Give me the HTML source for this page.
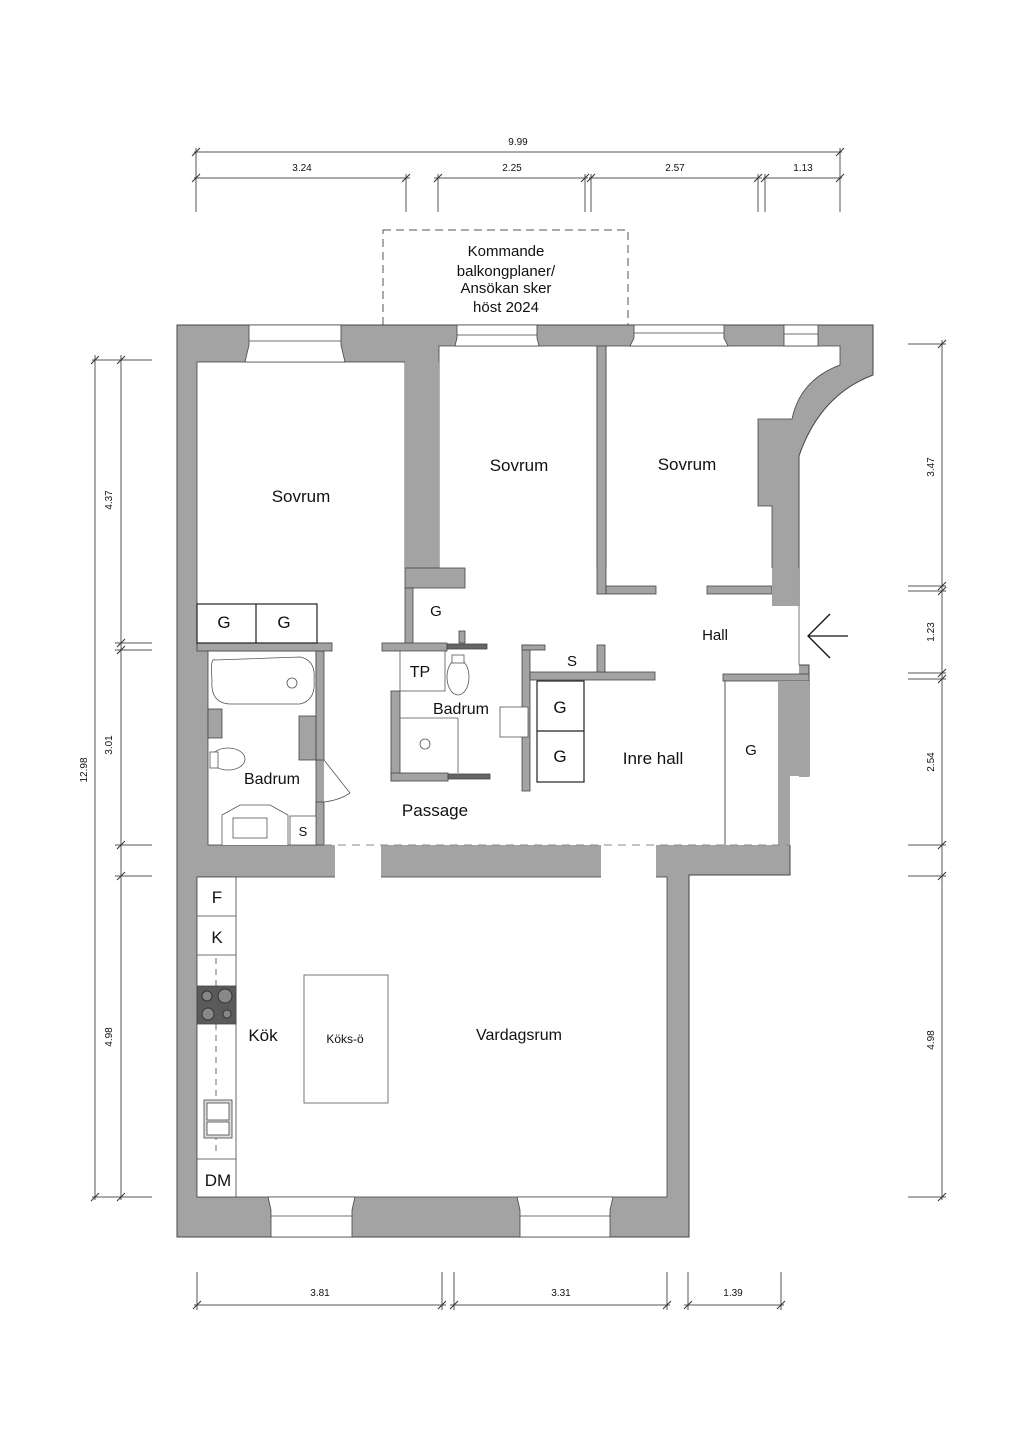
<!DOCTYPE html>
<html><head><meta charset="utf-8"><style>
html,body{margin:0;padding:0;background:#fff;}
svg{display:block}
text{font-family:"Liberation Sans",sans-serif;fill:#111}
</style></head><body>
<svg width="1024" height="1448" viewBox="0 0 1024 1448" xmlns="http://www.w3.org/2000/svg">
<g stroke="#555" stroke-width="1" fill="none">
<line x1="194" y1="152" x2="842" y2="152"/>
<line x1="194" y1="178" x2="410" y2="178"/>
<line x1="434" y1="178" x2="588" y2="178"/>
<line x1="589" y1="178" x2="762" y2="178"/>
<line x1="763" y1="178" x2="842" y2="178"/>
<line x1="196" y1="148" x2="196" y2="212"/><line x1="840" y1="148" x2="840" y2="212"/>
<line x1="406" y1="174" x2="406" y2="212"/><line x1="438" y1="174" x2="438" y2="212"/>
<line x1="585" y1="174" x2="585" y2="212"/><line x1="591" y1="174" x2="591" y2="212"/>
<line x1="758" y1="174" x2="758" y2="212"/><line x1="765" y1="174" x2="765" y2="212"/>
<line x1="95" y1="355" x2="95" y2="1200"/>
<line x1="121" y1="355" x2="121" y2="1200"/>
<line x1="92" y1="360" x2="152" y2="360"/>
<line x1="115" y1="643" x2="152" y2="643"/><line x1="115" y1="650" x2="152" y2="650"/>
<line x1="115" y1="845" x2="152" y2="845"/><line x1="115" y1="876" x2="152" y2="876"/>
<line x1="92" y1="1197" x2="152" y2="1197"/>
<line x1="942" y1="340" x2="942" y2="1200"/>
<line x1="908" y1="344" x2="946" y2="344"/>
<line x1="908" y1="586" x2="946" y2="586"/><line x1="908" y1="591" x2="946" y2="591"/>
<line x1="908" y1="673" x2="946" y2="673"/><line x1="908" y1="679" x2="946" y2="679"/>
<line x1="908" y1="845" x2="946" y2="845"/><line x1="908" y1="876" x2="946" y2="876"/>
<line x1="908" y1="1197" x2="946" y2="1197"/>
<line x1="194" y1="1305" x2="446" y2="1305"/>
<line x1="450" y1="1305" x2="670" y2="1305"/>
<line x1="684" y1="1305" x2="784" y2="1305"/>
<line x1="197" y1="1272" x2="197" y2="1310"/><line x1="442" y1="1272" x2="442" y2="1310"/>
<line x1="454" y1="1272" x2="454" y2="1310"/><line x1="667" y1="1272" x2="667" y2="1310"/>
<line x1="688" y1="1272" x2="688" y2="1310"/><line x1="781" y1="1272" x2="781" y2="1310"/>
</g>
<g stroke="#333" stroke-width="1">
<path d="M192 156 l8 -8 M836 156 l8 -8 M192 182 l8 -8 M402 182 l8 -8 M434 182 l8 -8 M581 182 l8 -8 M587 182 l8 -8 M754 182 l8 -8 M761 182 l8 -8 M836 182 l8 -8"/>
<path d="M91 364 l8 -8 M117 364 l8 -8 M117 647 l8 -8 M117 654 l8 -8 M117 849 l8 -8 M117 880 l8 -8 M91 1201 l8 -8 M117 1201 l8 -8"/>
<path d="M938 348 l8 -8 M938 590 l8 -8 M938 595 l8 -8 M938 677 l8 -8 M938 683 l8 -8 M938 849 l8 -8 M938 880 l8 -8 M938 1201 l8 -8"/>
<path d="M193 1309 l8 -8 M438 1309 l8 -8 M450 1309 l8 -8 M663 1309 l8 -8 M684 1309 l8 -8 M777 1309 l8 -8"/>
</g>
<g font-size="10" text-anchor="middle">
<text x="518" y="145">9.99</text>
<text x="302" y="171">3.24</text><text x="512" y="171">2.25</text>
<text x="675" y="171">2.57</text><text x="803" y="171">1.13</text>
<text x="320" y="1296">3.81</text><text x="561" y="1296">3.31</text><text x="733" y="1296">1.39</text>
<text transform="translate(87,770) rotate(-90)">12.98</text>
<text transform="translate(112,500) rotate(-90)">4.37</text>
<text transform="translate(112,745) rotate(-90)">3.01</text>
<text transform="translate(112,1037) rotate(-90)">4.98</text>
<text transform="translate(934,467) rotate(-90)">3.47</text>
<text transform="translate(934,632) rotate(-90)">1.23</text>
<text transform="translate(934,762) rotate(-90)">2.54</text>
<text transform="translate(934,1040) rotate(-90)">4.98</text>
</g>
<rect x="383" y="230" width="245" height="95" fill="none" stroke="#555" stroke-dasharray="8,5"/>
<g font-size="15" text-anchor="middle">
<text x="506" y="256">Kommande</text><text x="506" y="276">balkongplaner/</text>
<text x="506" y="293">Ansökan sker</text><text x="506" y="312">höst 2024</text>
</g>
<path d="M177 325 H873 V375 Q820 395 799 456 V606 H799 V665 H809 V776 H790 V875 H689 V1237 H177 Z" fill="#a3a3a3" stroke="#444" stroke-width="1"/>
<g fill="#fff" stroke="#444" stroke-width="0.8">
<rect x="197" y="362" width="208" height="281"/>
<path d="M439 568 V346 H597 V568" />
<path d="M606 346 H840 V365 Q800 380 792 419 H758 V506 H772 V586 H606 Z"/>
<rect x="332" y="568" width="467" height="277" stroke="none"/>
<rect x="440" y="560" width="156" height="10" stroke="none"/>
<rect x="324" y="651" width="10" height="194" stroke="none"/>
<rect x="208" y="651" width="108" height="194"/>
<rect x="197" y="877" width="470" height="320"/>
<rect x="335" y="845" width="46" height="33" stroke="none"/>
<rect x="601" y="845" width="55" height="33" stroke="none"/>
</g>
<g fill="#a3a3a3" stroke="#444" stroke-width="0.8">
<rect x="405" y="362" width="34" height="206" stroke="none"/>
<rect x="405" y="568" width="60" height="20"/>
<rect x="405" y="588" width="8" height="55"/>
<rect x="597" y="346" width="9" height="248"/>
<rect x="606" y="586" width="50" height="8"/>
<rect x="707" y="586" width="65" height="8"/>
<rect x="772" y="568" width="27" height="38" stroke="none"/>
<rect x="459" y="631" width="6" height="12"/>
<rect x="382" y="643" width="65" height="8"/>
<rect x="391" y="691" width="9" height="90"/>
<rect x="391" y="773" width="57" height="8"/>
<rect x="522" y="645" width="8" height="146"/>
<rect x="522" y="645" width="23" height="5"/>
<rect x="530" y="672" width="125" height="8"/>
<rect x="597" y="645" width="8" height="27"/>
<rect x="723" y="674" width="86" height="7"/>
<rect x="778" y="681" width="31" height="95" stroke="none"/>
<rect x="778" y="776" width="12" height="69" stroke="none"/>
<rect x="316" y="651" width="8" height="109"/>
<rect x="299" y="716" width="17" height="44"/>
<rect x="316" y="802" width="8" height="43"/>
<rect x="208" y="709" width="14" height="29"/>
<rect x="197" y="643" width="135" height="8"/>
<rect x="447" y="644" width="40" height="5" fill="#666"/>
<rect x="448" y="774" width="42" height="5" fill="#666"/>
</g>
<line x1="799" y1="606" x2="799" y2="665" stroke="#777"/>
<line x1="324" y1="845" x2="790" y2="845" stroke="#888" stroke-dasharray="8,6"/>
<line x1="725" y1="681" x2="725" y2="845" stroke="#555"/>
<g fill="#fff" stroke="#444" stroke-width="0.8">
<path d="M249 325 H341 V345 L345 362 H245 L249 345 Z"/><line x1="249" y1="341" x2="341" y2="341"/>
<path d="M457 325 H537 V338 L539 346 H455 L457 338 Z"/><line x1="457" y1="335" x2="537" y2="335"/>
<path d="M634 325 H724 V338 L728 346 H630 L634 338 Z"/><line x1="634" y1="333" x2="724" y2="333"/>
<rect x="784" y="325" width="34" height="21"/><line x1="784" y1="334" x2="818" y2="334"/>
<path d="M268 1197 H355 L352 1210 V1237 H271 V1210 Z"/><line x1="271" y1="1216" x2="352" y2="1216"/>
<path d="M517 1197 H613 L610 1210 V1237 H520 V1210 Z"/><line x1="520" y1="1216" x2="610" y2="1216"/>
</g>
<g fill="none" stroke="#222" stroke-width="1.2">
<rect x="197" y="604" width="120" height="39"/><line x1="256" y1="604" x2="256" y2="643"/>
<rect x="537" y="681" width="47" height="101"/><line x1="537" y1="731" x2="584" y2="731"/>
</g>
<g fill="#fff" stroke="#555" stroke-width="0.8">
<rect x="400" y="651" width="45" height="40"/>
<path d="M215 660 Q210 657 212 680 Q210 703 230 704 H300 Q316 700 314 680 Q316 660 300 657 Z"/>
<circle cx="292" cy="683" r="5"/>
<ellipse cx="458" cy="677" rx="11" ry="18"/><rect x="452" y="655" width="12" height="8"/>
<ellipse cx="228" cy="759" rx="17" ry="11"/><rect x="210" y="752" width="8" height="16"/>
<path d="M222 845 V815 L240 805 H270 L288 815 V845"/><rect x="233" y="818" width="34" height="20"/>
<rect x="290" y="816" width="26" height="29"/>
<rect x="500" y="707" width="28" height="30"/>
<path d="M324 760 L350 793 Q340 800 324 802" />
<line x1="400" y1="718" x2="458" y2="718"/><line x1="458" y1="718" x2="458" y2="773"/>
<circle cx="425" cy="744" r="5"/>
<rect x="304" y="975" width="84" height="128"/>
</g>
<g fill="#fff" stroke="#444" stroke-width="0.8">
<rect x="197" y="877" width="39" height="320"/>
<line x1="197" y1="916" x2="236" y2="916"/><line x1="197" y1="955" x2="236" y2="955"/>
<line x1="197" y1="1159" x2="236" y2="1159"/>
<line x1="216" y1="958" x2="216" y2="1155" stroke-dasharray="6,5"/>
<rect x="197" y="986" width="39" height="38" fill="#5a5a5a"/>
<rect x="204" y="1100" width="28" height="38" fill="#ddd"/>
<rect x="207" y="1103" width="22" height="17" fill="#fff"/><rect x="207" y="1122" width="22" height="13" fill="#fff"/>
</g>
<g fill="#888" stroke="#333">
<circle cx="207" cy="996" r="5"/><circle cx="225" cy="996" r="7"/>
<circle cx="208" cy="1014" r="6"/><circle cx="227" cy="1014" r="4"/>
</g>
<path d="M830 614 L808 636 L830 658 M808 636 H848" fill="none" stroke="#111" stroke-width="1.3"/>
<g text-anchor="middle" font-size="17">
<text x="301" y="502">Sovrum</text><text x="519" y="471">Sovrum</text><text x="687" y="470">Sovrum</text>
<text x="715" y="640" font-size="15">Hall</text>
<text x="653" y="764">Inre hall</text>
<text x="435" y="816">Passage</text>
<text x="272" y="784" font-size="16">Badrum</text>
<text x="461" y="714" font-size="16">Badrum</text>
<text x="263" y="1041">Kök</text>
<text x="519" y="1040" font-size="16">Vardagsrum</text>
<text x="345" y="1043" font-size="12">Köks-ö</text>
<text x="224" y="628">G</text><text x="284" y="628">G</text>
<text x="436" y="616" font-size="15">G</text>
<text x="560" y="713">G</text><text x="560" y="762">G</text>
<text x="751" y="755" font-size="15">G</text>
<text x="572" y="666" font-size="15">S</text>
<text x="303" y="836" font-size="13">S</text>
<text x="420" y="677" font-size="16">TP</text>
<text x="217" y="903">F</text><text x="217" y="943">K</text>
<text x="218" y="1186">DM</text>
</g>
</svg>
</body></html>
